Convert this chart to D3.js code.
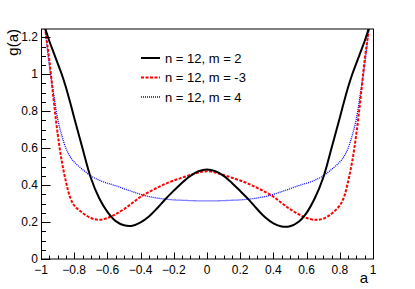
<!DOCTYPE html>
<html>
<head>
<meta charset="utf-8">
<script src="https://d3js.org/d3.v7.min.js"></script>
<style>
	body { margin: 0; background: #fff; }
	svg { font-family: "Liberation Sans", Arial, sans-serif; }
</style>
</head>
<body>
<div id="chart"></div>
<script>
// sample points along a
var aVals = [-1, -0.975, -0.95, -0.925, -0.9, -0.875, -0.85, -0.825, -0.8, -0.75, -0.7, -0.65, -0.6, -0.55, -0.5, -0.45, -0.4, -0.35, -0.3, -0.25, -0.2, -0.15, -0.1, -0.05,
	0, 0.05, 0.1, 0.15, 0.2, 0.25, 0.3, 0.35, 0.4, 0.45, 0.5, 0.55, 0.6, 0.65, 0.7, 0.75, 0.8, 0.825, 0.85, 0.875, 0.9, 0.925, 0.95, 0.975, 1];

// n = 12, m = 2
var gM2 = [1.34, 1.25, 1.18, 1.12, 1.06, 1.0, 0.93, 0.85, 0.765, 0.6, 0.44, 0.33, 0.255, 0.205, 0.183, 0.18, 0.198, 0.23, 0.275, 0.325, 0.37, 0.413, 0.45, 0.476,
	0.485, 0.476, 0.45, 0.412, 0.368, 0.323, 0.272, 0.226, 0.193, 0.176, 0.177, 0.2, 0.25, 0.33, 0.44, 0.6, 0.765, 0.85, 0.93, 1.0, 1.06, 1.12, 1.18, 1.25, 1.34];
// n = 12, m = -3
var gM3 = [1.5, 1.25, 1.08, 0.87, 0.68, 0.53, 0.42, 0.335, 0.29, 0.25, 0.222, 0.212, 0.222, 0.243, 0.27, 0.303, 0.337, 0.363, 0.386, 0.407, 0.425, 0.44, 0.455, 0.468,
	0.475, 0.468, 0.455, 0.44, 0.425, 0.407, 0.386, 0.363, 0.337, 0.303, 0.27, 0.243, 0.222, 0.212, 0.218, 0.245, 0.29, 0.335, 0.42, 0.53, 0.68, 0.87, 1.08, 1.25, 1.5];
// n = 12, m = 4
var gM4 = [1.5, 1.25, 1.05, 0.9, 0.76, 0.67, 0.6, 0.555, 0.525, 0.485, 0.45, 0.427, 0.41, 0.397, 0.38, 0.365, 0.35, 0.338, 0.33, 0.324, 0.32, 0.318, 0.316, 0.315,
	0.315, 0.315, 0.316, 0.318, 0.32, 0.324, 0.33, 0.338, 0.35, 0.365, 0.38, 0.397, 0.41, 0.427, 0.45, 0.485, 0.525, 0.555, 0.6, 0.67, 0.76, 0.9, 1.05, 1.25, 1.5];

var legendLabels = ["n = 12, m = 2", "n = 12, m = -3", "n = 12, m = 4"];
var xTicks = [-1, -0.8, -0.6, -0.4, -0.2, 0, 0.2, 0.4, 0.6, 0.8, 1];
var yTicks = [0, 0.2, 0.4, 0.6, 0.8, 1, 1.2];

var W = 415, H = 289;
var frame = {left: 41, right: 373, top: 29, bottom: 259};

var x = d3.scaleLinear().domain([-1, 1]).range([frame.left, frame.right]);
var y = d3.scaleLinear().domain([0, 1.245]).range([frame.bottom, frame.top]);

var svg = d3.select("#chart").append("svg")
	.attr("width", W)
	.attr("height", H);

svg.append("clipPath")
	.attr("id", "clip")
	.append("rect")
		.attr("x", frame.left)
		.attr("y", frame.top)
		.attr("width", frame.right - frame.left)
		.attr("height", frame.bottom - frame.top);

// curves
var series = [
	{vals: gM2, color: "#000000", width: 2, dash: null},
	{vals: gM3, color: "#ff0000", width: 2, dash: "3,1.5"},
	{vals: gM4, color: "#0000ff", width: 1.3, dash: "1,1"}
];

var line = d3.line()
	.x(function(d) { return x(d[0]); })
	.y(function(d) { return y(d[1]); })
	.curve(d3.curveCatmullRom.alpha(0.5));

var curves = svg.append("g").attr("clip-path", "url(#clip)");
series.slice().reverse().forEach(function(s) {
	curves.append("path")
		.datum(aVals.map(function(a, i) { return [a, s.vals[i]]; }))
		.attr("d", line)
		.attr("fill", "none")
		.attr("stroke", s.color)
		.attr("stroke-width", s.width)
		.attr("stroke-dasharray", s.dash);
});

// axes (ROOT style, ticks inside)
var xMinor = d3.range(-1, 1.0001, 0.05);
var yMinor = d3.range(0, 1.2501, 0.05);

var ax = svg.append("g").attr("stroke", "#000").attr("stroke-width", 1);
xMinor.forEach(function(v) {
	var major = xTicks.some(function(t) { return Math.abs(t - v) < 1e-6; });
	ax.append("line")
		.attr("x1", Math.round(x(v)) + 0.5).attr("x2", Math.round(x(v)) + 0.5)
		.attr("y1", frame.bottom).attr("y2", frame.bottom - (major ? 6.5 : 3.5));
});
yMinor.forEach(function(v) {
	if (y(v) < frame.top) return;
	var major = yTicks.some(function(t) { return Math.abs(t - v) < 1e-6; });
	ax.append("line")
		.attr("y1", Math.round(y(v)) + 0.5).attr("y2", Math.round(y(v)) + 0.5)
		.attr("x1", frame.left).attr("x2", frame.left + (major ? 9.5 : 5));
});

// frame
ax.append("line").attr("x1", frame.left + 0.5).attr("x2", frame.left + 0.5).attr("y1", frame.top).attr("y2", frame.bottom);
ax.append("line").attr("x1", frame.right + 0.5).attr("x2", frame.right + 0.5).attr("y1", frame.top).attr("y2", frame.bottom);
ax.append("line").attr("x1", frame.left).attr("x2", frame.right + 1).attr("y1", frame.top).attr("y2", frame.top);
ax.append("line").attr("x1", frame.left).attr("x2", frame.right + 1).attr("y1", frame.bottom).attr("y2", frame.bottom);

// tick labels
svg.append("g").selectAll("text")
	.data(xTicks)
	.enter().append("text")
		.attr("x", function(d) { return x(d); })
		.attr("y", 273.5)
		.attr("text-anchor", "middle")
		.attr("font-size", 12)
		.text(function(d) { return d3.format("")(d); });

svg.append("g").selectAll("text")
	.data(yTicks)
	.enter().append("text")
		.attr("x", 38)
		.attr("y", function(d) { return y(d) + 4; })
		.attr("text-anchor", "end")
		.attr("font-size", 12)
		.text(function(d) { return d3.format("")(d); });

// axis titles
svg.append("text")
	.attr("transform", "translate(18, 29) rotate(-90)")
	.attr("text-anchor", "end")
	.attr("font-size", 15)
	.text("g(a)");
svg.append("text")
	.attr("x", 368)
	.attr("y", 283)
	.attr("text-anchor", "end")
	.attr("font-size", 15)
	.text("a");

// legend
var leg = svg.append("g");
series.forEach(function(s, i) {
	var ly = 58 + i * 19.5;
	leg.append("line")
		.attr("x1", 141).attr("x2", 160)
		.attr("y1", ly).attr("y2", ly)
		.attr("stroke", s.color)
		.attr("stroke-width", s.width)
		.attr("stroke-dasharray", s.dash);
	leg.append("text")
		.attr("x", 165)
		.attr("y", ly + 4.5)
		.attr("font-size", 13)
		.text(legendLabels[i]);
});
</script>
</body>
</html>
